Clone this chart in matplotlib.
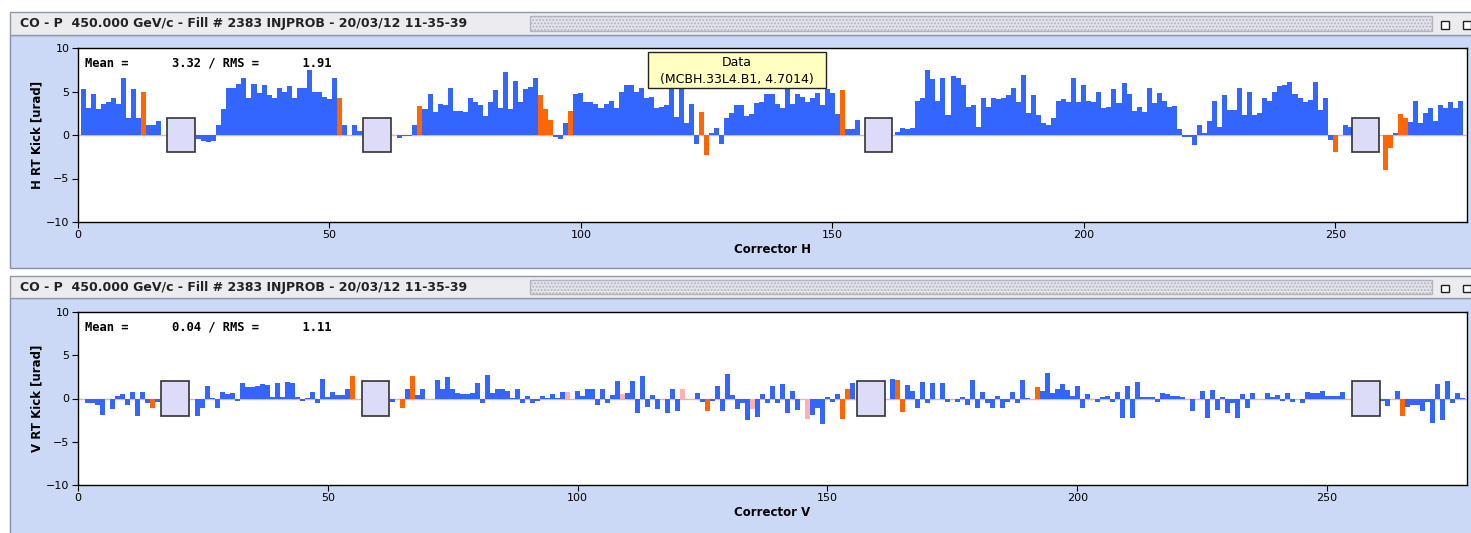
import matplotlib.pyplot as plt
from matplotlib.patches import Rectangle

title = "CO - P  450.000 GeV/c - Fill # 2383 INJPROB - 20/03/12 11-35-39"

# horizontal correctors, kick in urad (index 1..275)
h_kick = [5.3, 3.1, 4.7, 3.0, 3.6, 3.75, 4.3, 3.6, 6.6, 2.0,
          5.3, 2.0, 5.0, 1.1, 1.1, 1.6, 0, 0, 0, 0,
          0, 0, 0, -0.5, -0.65, -0.85, -0.65, 1.1, 3.0, 5.4,
          5.4, 5.9, 6.6, 4.2, 5.9, 4.8, 5.7, 4.6, 4.3, 5.4,
          5.0, 5.6, 4.3, 5.4, 5.4, 7.5, 5.0, 5.0, 4.4, 4.1,
          6.6, 4.2, 1.15, 0, 1.15, 0.45, 0, 0, 0, 0,
          0, 0, 0, -0.3, -0.15, -0.15, 1.1, 3.3, 3.0, 4.7,
          2.7, 3.6, 3.4, 5.4, 2.8, 2.8, 2.7, 4.2, 3.75, 3.4,
          2.2, 3.75, 5.2, 3.1, 7.2, 3.0, 6.2, 3.75, 5.3, 5.55,
          6.6, 4.6, 3.0, 1.7, -0.2, -0.45, 1.35, 2.8, 4.7, 4.8,
          3.75, 3.75, 3.6, 3.1, 3.6, 3.9, 3.1, 5.0, 5.8, 5.8,
          4.9, 5.4, 4.3, 4.4, 3.1, 3.25, 3.4, 6.5, 2.1, 6.2,
          1.35, 3.6, -1.05, 2.7, -2.3, 0.2, 0.8, -1.0, 2.0, 2.5,
          3.4, 3.4, 2.2, 2.4, 3.7, 3.8, 4.7, 4.7, 3.6, 3.1,
          5.6, 3.6, 4.7, 4.4, 3.8, 4.3, 4.85, 3.45, 5.3, 4.8,
          2.4, 5.2, 0.65, 0.65, 1.7, 0, 0, 0, 0, 0,
          0, 0, 0.4, 0.85, 0.7, 0.75, 3.9, 4.2, 7.5, 6.4,
          3.9, 6.6, 2.3, 6.8, 6.5, 5.8, 3.2, 3.45, 0.95, 4.2,
          3.2, 4.2, 4.1, 4.3, 4.6, 5.45, 3.8, 6.9, 2.55, 4.6,
          2.3, 1.35, 1.2, 2.0, 3.9, 4.1, 3.75, 6.6, 3.75, 5.8,
          3.9, 3.75, 5.0, 3.15, 3.25, 5.3, 3.65, 5.95, 4.7, 2.8,
          3.25, 2.7, 5.45, 3.65, 4.85, 3.9, 3.25, 3.3, 0.65, -0.25,
          -0.25, -1.15, 1.15, 0.27, 1.6, 3.9, 0.95, 4.6, 2.9, 2.9,
          5.45, 2.3, 5.0, 2.3, 2.55, 4.2, 3.95, 5.0, 5.65, 5.8,
          6.05, 4.7, 4.2, 3.8, 4.0, 6.05, 2.9, 4.2, -0.55, -2.0,
          0, 1.15, 0.95, 0, 0, 0, 0, 0, 0, -4.0,
          -1.45, 0.2, 2.4, 2.0, 1.45, 3.9, 1.35, 2.5, 3.05, 1.6,
          3.5, 3.05, 3.75, 3.05, 3.9]
h_orange = [13, 52, 68, 92, 93, 94, 98, 124, 125, 152, 250, 260, 261, 263, 264]
h_boxes = [20.5, 59.4, 159.2, 256.0]

# vertical correctors (index 1..277)
v_kick = [-0.1, -0.5, -0.5, -0.7, -1.9, -0.1, -1.25, 0.3, 0.5, -0.7,
          0.7, -2.0, 0.8, -0.5, -1.05, -0.35, 0, 0, 0, 0,
          0, 0, 0, -2.0, -1.05, 1.45, 0.1, -1.05, 0.8, 0.5,
          0.6, -0.25, 1.75, 1.3, 1.3, 1.45, 1.65, 1.55, 0.2, 1.8,
          0.2, 1.95, 1.75, 0.2, -0.25, 0.1, 0.8, -0.5, 2.3, 0.15,
          0.8, 0.4, 0.4, 1.1, 2.6, 0, 0, 0, 0, 0,
          0, 0, -0.35, 0, -1.05, 1.05, 2.6, 0.4, 1.15, -0.1,
          -0.1, 2.15, 1.15, 2.45, 1.15, 0.65, 0.5, 0.5, 0.65, 1.75,
          -0.5, 2.7, 0.65, 1.15, 1.1, 0.9, 0.1, 1.05, -0.5, 0.3,
          -0.5, -0.3, 0.3, 0.1, 0.5, 0.1, 0.8, 0.7, -0.1, 0.9,
          0.3, 1.05, 1.05, -0.7, 1.05, -0.55, 0.4, 2.0, 0.5, 0.6,
          2.0, -1.65, 2.6, -0.95, 0.4, -1.25, -0.05, -1.65, 1.15, -1.5,
          1.05, -0.1, 0, 0.65, -0.35, -1.5, -0.25, 1.5, -1.5, 2.8,
          0.4, -1.25, -0.5, -2.5, -1.25, -2.1, 0.5, -0.55, 1.45, -0.5,
          1.7, -1.65, 0.85, -1.35, 0, -2.4, -1.85, -1.15, -3.0, 0.2,
          -0.35, 0.5, -2.4, 1.15, 1.75, 0, 0, 0, 0, 0,
          0, 0, 2.25, 2.15, -1.6, 1.55, 0.85, -1.15, 1.95, -0.55,
          1.8, -0.1, 1.8, -0.35, -0.1, -0.35, 0.2, -0.75, 2.15, -1.15,
          0.8, -0.55, -1.05, 0.3, -1.05, -0.35, 0.7, -0.55, 2.15, 0.05,
          -0.1, 1.3, 0.85, 2.9, 0.6, 1.1, 1.7, 1.0, 0.3, 1.45,
          -1.05, 0.5, -0.1, -0.35, 0.2, 0.3, -0.35, 0.7, -2.2, 1.45,
          -2.3, 1.95, 0.2, 0.2, 0.2, -0.35, 0.6, 0.5, 0.3, 0.3,
          0.2, 0, -1.5, 0, 0.85, -2.3, 1.0, -1.35, 0.2, -1.65,
          -0.5, -2.3, 0.5, -1.05, 0.6, -0.1, -0.1, 0.6, 0.2, 0.4,
          -0.25, 0.6, -0.35, -0.1, -0.55, 0.8, 0.6, 0.6, 0.9, 0.3,
          0.3, 0.3, 0.7, 0, 0, 0, 0, 0, 0, 0,
          -0.25, -0.85, 0, 0.9, -2.0, -1.0, -0.7, -0.7, -1.5, -0.35,
          -2.8, 1.7, -2.5, 2.0, -0.55, 0.6, 0.05]
v_orange = [15, 55, 65, 67, 126, 153, 154, 164, 165, 192, 265]
v_pink = [98, 109, 121, 135, 146]
v_boxes = [19.45, 59.55, 158.75, 257.8]

W, H = 1471, 533
BLUE = '#3366ff'
ORANGE = '#ff6600'
PINK = '#ffb0b0'

fig = plt.figure(figsize=(W / 100, H / 100), dpi=100)
fig.patch.set_facecolor('white')


def px_rect(x0, y0, x1, y1, **kw):
    # rectangle given in pixel coords of the picture (y down)
    r = Rectangle((x0 / W, 1 - y1 / H), (x1 - x0) / W, (y1 - y0) / H,
                  transform=fig.transFigure, **kw)
    fig.add_artist(r)
    return r


def window(t_top, t_bot, b_bot):
    # blue body of the window
    px_rect(10, t_bot, W + 2, b_bot, facecolor='#ccd9f6', edgecolor='#8090b0', lw=1, zorder=-5)
    # title bar
    px_rect(10, t_top, W + 2, t_bot, facecolor='#ececf0', edgecolor='#9098a8', lw=1, zorder=-4)
    px_rect(530, t_top + 4, 1432, t_bot - 4, facecolor='#e4e4ea', edgecolor='none',
            hatch='.....', zorder=-3).set_edgecolor('#b4b4c0')
    fig.text(20 / W, 1 - (t_top + t_bot) / 2 / H, title, fontsize=9, fontweight='bold',
             va='center', ha='left', color='#222222')
    # little window buttons
    px_rect(1441, t_top + 9, 1449, t_bot - 6, facecolor='white', edgecolor='#222222', lw=1)
    px_rect(1463, t_top + 9, 1471, t_bot - 6, facecolor='white', edgecolor='#222222', lw=1)


window(12, 35, 268)
window(276, 298, 540)


def panel(ax, kick, orange, pink, boxes, xmax, ylabel, xlabel, mean, rms):
    xs = list(range(1, len(kick) + 1))
    colors = []
    for i in xs:
        if i in orange:
            colors.append(ORANGE)
        elif i in pink:
            colors.append(PINK)
        else:
            colors.append(BLUE)
    ax.axhline(0, color='#ffaaaa', lw=1, zorder=1)
    ax.bar(xs, kick, width=1.0, color=colors, linewidth=0, zorder=2)
    for b in boxes:
        ax.add_patch(Rectangle((b - 2.75, -2), 5.5, 4, facecolor='#dcdcf8',
                               edgecolor='#333333', lw=1.2, zorder=3))
    ax.set_xlim(0, xmax)
    ax.set_ylim(-10, 10)
    ax.set_yticks([-10, -5, 0, 5, 10])
    ax.set_xticks([0, 50, 100, 150, 200, 250])
    ax.tick_params(labelsize=8, length=4, width=0.8, pad=2)
    ax.set_ylabel(ylabel, fontsize=8.5, fontweight='bold', labelpad=2)
    ax.set_xlabel(xlabel, fontsize=8.5, fontweight='bold', labelpad=2)
    ax.set_facecolor('white')
    for s in ax.spines.values():
        s.set_linewidth(1)
    ax.text(0.005, 0.915, 'Mean =      %.2f / RMS =      %.2f' % (mean, rms),
            transform=ax.transAxes, family='DejaVu Sans Mono', fontweight='bold',
            fontsize=8.7, va='center', ha='left')


ax1 = fig.add_axes([78 / W, 1 - 222 / H, 1389 / W, 174 / H])
panel(ax1, h_kick, h_orange, [], h_boxes, 276.2, 'H RT Kick [urad]', 'Corrector H', 3.32, 1.91)

ax2 = fig.add_axes([78 / W, 1 - 485 / H, 1389 / W, 173 / H])
panel(ax2, v_kick, v_orange, v_pink, v_boxes, 278.0, 'V RT Kick [urad]', 'Corrector V', 0.04, 1.11)

# tooltip on the top plot
px_rect(648, 52, 826, 88, facecolor='#ffffc0', edgecolor='#222222', lw=1, zorder=10)
fig.text(737 / W, 1 - 62 / H, 'Data', fontsize=9, ha='center', va='center', zorder=11)
fig.text(737 / W, 1 - 79 / H, '(MCBH.33L4.B1, 4.7014)', fontsize=9, ha='center', va='center', zorder=11)

fig.savefig('out.png', dpi=100)
